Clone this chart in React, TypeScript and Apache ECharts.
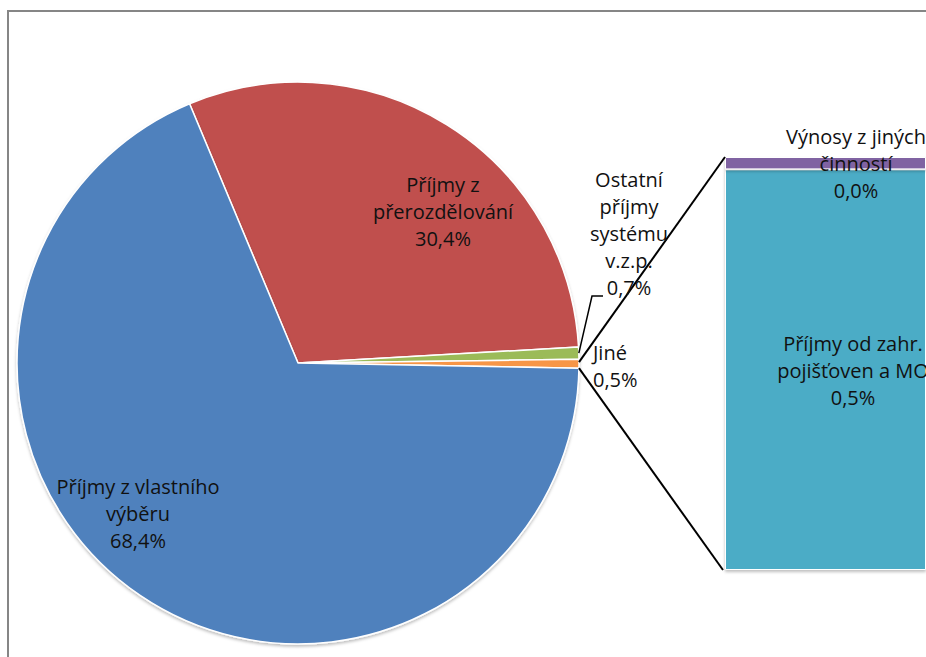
import React, { useEffect, useRef } from "react";
import * as echarts from "echarts";

// ---- data ----
const pieNames = [
  "Příjmy z přerozdělování",
  "Ostatní příjmy systému v.z.p.",
  "Jiné",
  "Příjmy z vlastního výběru",
];
const pieLabelTexts = [
  "Příjmy z\npřerozdělování",
  "Ostatní\npříjmy\nsystému\nv.z.p.",
  "Jiné",
  "Příjmy z vlastního\nvýběru",
];
const pieValues = [30.4, 0.7, 0.5, 68.4];
const pieColors = ["#C0504D", "#9BBB59", "#F79646", "#4F81BD"];

const barNames = ["Příjmy od zahr. pojišťoven a MO", "Výnosy z jiných činností"];
const barLabelTexts = ["Příjmy od zahr.\npojišťoven a MO", "Výnosy z jiných\nčinností"];
const barValues = [0.485, 0.015];
const barColors = ["#4BACC6", "#8064A2"];

// ---- layout ----
const CX = 298;
const CY = 363;
const R = 281;
const START = 112.7;
const BAR_LEFT = 725;
const BAR_TOP = 157;
const BAR_W = 260;
const BAR_H = 413;
const FONT = "'Open Sans', Lato, sans-serif";

const pct = (v: number) => v.toFixed(1).replace(".", ",") + "%";

function angleAt(cum: number) {
  return ((START - (cum / 100) * 360) * Math.PI) / 180;
}
function pt(a: number, r: number): [number, number] {
  return [CX + r * Math.cos(a), CY - r * Math.sin(a)];
}

export default function App() {
  const ref = useRef<HTMLDivElement>(null);
  useEffect(() => {
    if (!ref.current) return;
    const chart = echarts.init(ref.current, null, { renderer: "svg" });

    const cum: number[] = [];
    let s = 0;
    pieValues.forEach((v) => {
      cum.push(s);
      s += v;
    });
    const otherIdx = 2;
    const aOtherStart = angleAt(cum[otherIdx]);
    const aOtherEnd = angleAt(cum[otherIdx] + pieValues[otherIdx]);
    const aGreenMid = angleAt(cum[1] + pieValues[1] / 2);
    const pUp = pt(aOtherStart - 0.01, R);
    const pDown = pt(aOtherEnd, R);
    const pGreen = pt(aGreenMid, R);

    const textStyle = (x: number, y: number, text: string, align = "center") => ({
      type: "text",
      x,
      y,
      z: 100,
      style: {
        text,
        fill: "#111",
        font: `20px ${FONT}`,
        lineHeight: 27,
        align,
        verticalAlign: "middle",
      },
    });

    const graphics: any[] = [
      {
        type: "rect",
        shape: { x: 8, y: 11, width: 1200, height: 1000 },
        style: { fill: "none", stroke: "#868686", lineWidth: 2 },
        z: 0,
      },
      {
        type: "line",
        shape: { x1: pUp[0], y1: pUp[1], x2: BAR_LEFT, y2: BAR_TOP },
        style: { stroke: "#000", lineWidth: 2 },
        z: 50,
      },
      {
        type: "line",
        shape: { x1: pDown[0], y1: pDown[1], x2: BAR_LEFT - 2, y2: BAR_TOP + BAR_H },
        style: { stroke: "#000", lineWidth: 2 },
        z: 50,
      },
      {
        type: "polyline",
        shape: { points: [pGreen, [592, 296], [603, 296]] },
        style: { stroke: "#000", lineWidth: 1.5, fill: "none" },
        z: 50,
      },
      textStyle(443, 211, pieLabelTexts[0] + "\n" + pct(pieValues[0])),
      textStyle(629, 233, pieLabelTexts[1] + "\n" + pct(pieValues[1])),
      textStyle(593, 366, pieLabelTexts[2] + "\n" + pct(pieValues[2]), "left"),
      textStyle(138, 513, pieLabelTexts[3] + "\n" + pct(pieValues[3])),
      textStyle(853, 370, barLabelTexts[0] + "\n" + pct(barValues[0])),
      textStyle(856, 163, barLabelTexts[1] + "\n" + pct(barValues[1])),
    ];

    chart.setOption({
      animation: false,
      backgroundColor: "#fff",
      grid: { left: BAR_LEFT, top: BAR_TOP, width: BAR_W, height: BAR_H },
      xAxis: { type: "category", data: ["Jiné"], show: false },
      yAxis: { type: "value", min: 0, max: barValues.reduce((a, b) => a + b, 0), show: false },
      series: [
        {
          type: "pie",
          silent: true,
          center: [CX, CY],
          radius: R,
          startAngle: START,
          clockwise: true,
          label: { show: false },
          labelLine: { show: false },
          itemStyle: {
            borderColor: "#fff",
            borderWidth: 1.5,
            shadowColor: "rgba(0,0,0,0.25)",
            shadowBlur: 3,
            shadowOffsetY: 2,
          },
          data: pieNames.map((n, i) => ({
            name: n,
            value: pieValues[i],
            itemStyle: { color: pieColors[i] },
          })),
        },
        ...barNames.map((n, i) => ({
          type: "bar",
          name: n,
          stack: "other",
          silent: true,
          barWidth: "100%",
          itemStyle: {
            color: barColors[i],
            borderColor: "#fff",
            borderWidth: 1,
            shadowColor: "rgba(0,0,0,0.25)",
            shadowBlur: 3,
            shadowOffsetY: 2,
          },
          data: [barValues[i]],
        })),
      ],
      graphic: graphics,
    });
    return () => chart.dispose();
  }, []);
  return (
    <div
      ref={ref}
      style={{ position: "fixed", left: 0, top: 0, width: 926, height: 657 }}
    />
  );
}
